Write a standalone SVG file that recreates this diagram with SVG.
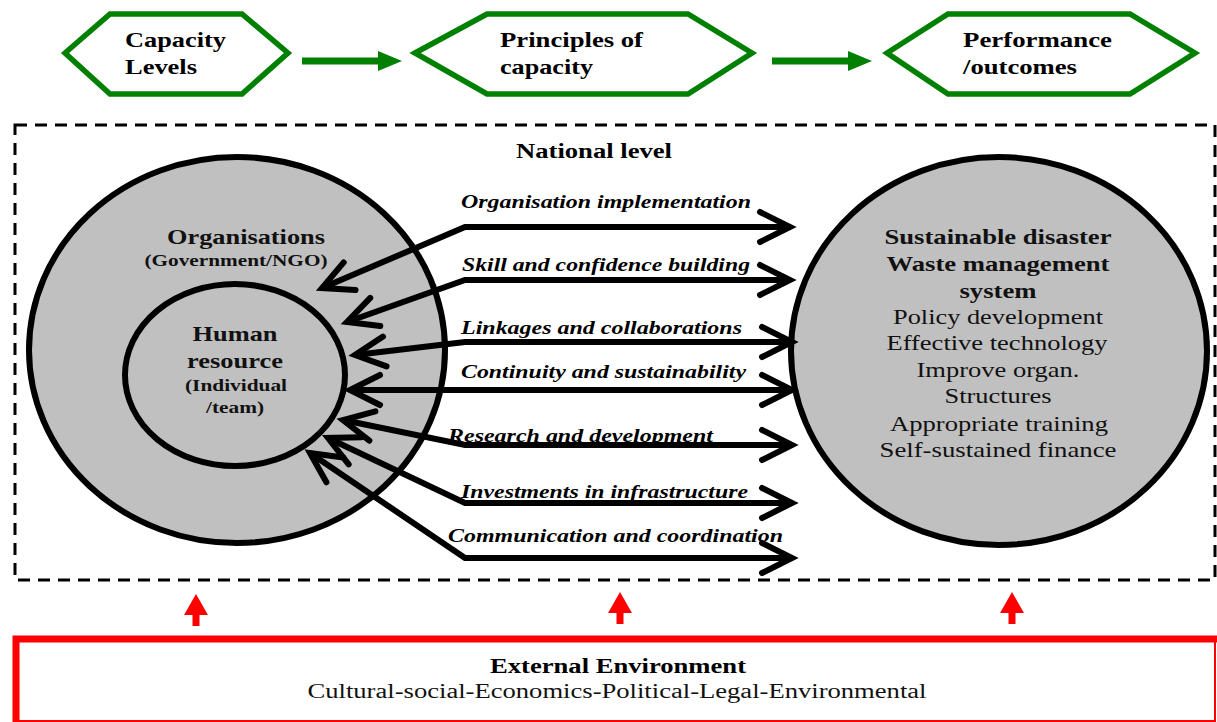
<svg xmlns="http://www.w3.org/2000/svg" width="1217" height="722" viewBox="0 0 1217 722">
<style>
text{font-family:'Liberation Serif','Times New Roman','DejaVu Serif',serif}
.hex{fill:#fff;stroke:#008000;stroke-width:5.5}
.garrow{fill:#008000}
.rarrow{fill:#ff0000}
.circ{fill:#c0c0c0;stroke:#000;stroke-width:6}
.conn{fill:none;stroke:#000;stroke-width:6;stroke-linejoin:miter}
.hb{font-weight:bold;font-size:22px;fill:#000}
.lb{font-weight:bold;font-style:italic;font-size:19.5px;fill:#000}
.cb{font-weight:bold;font-size:21.5px;fill:#111;text-anchor:middle}
.cs{font-weight:bold;font-size:16px;fill:#111;text-anchor:middle}
.cr{font-size:21.5px;fill:#111;text-anchor:middle}
</style>
<defs>
<marker id="ah" markerUnits="userSpaceOnUse" markerWidth="50" markerHeight="50" viewBox="-40 -25 50 50" refX="0" refY="0" orient="auto-start-reverse" overflow="visible">
<path d="M-30,-15 L0,0 L-30,15" fill="none" stroke="#000" stroke-width="6" stroke-linecap="round" stroke-linejoin="miter"/>
</marker>
</defs>

<g id="hex-capacity-levels">
<polygon class="hex" points="65,53 110,14 242,14 288,53 242,94 110,94"/>
<text class="hb" x="125" y="47" textLength="101" lengthAdjust="spacingAndGlyphs">Capacity</text>
<text class="hb" x="125" y="74" textLength="72" lengthAdjust="spacingAndGlyphs">Levels</text>
</g>
<g id="hex-principles">
<polygon class="hex" points="415,53 487,14 688,14 752,53 688,94 487,94"/>
<text class="hb" x="500" y="47" textLength="143" lengthAdjust="spacingAndGlyphs">Principles of</text>
<text class="hb" x="500" y="74" textLength="93" lengthAdjust="spacingAndGlyphs">capacity</text>
</g>
<g id="hex-performance">
<polygon class="hex" points="887,53 948,14 1130,14 1195,53 1130,94 948,94"/>
<text class="hb" x="963" y="47" textLength="149" lengthAdjust="spacingAndGlyphs">Performance</text>
<text class="hb" x="963" y="74" textLength="114" lengthAdjust="spacingAndGlyphs">/outcomes</text>
</g>

<g id="national-level">
<rect x="15" y="125" width="1200" height="455" fill="none" stroke="#000" stroke-width="3" stroke-dasharray="12,8"/>
<text class="hb" x="594" y="158" text-anchor="middle" style="font-size:20px" textLength="156" lengthAdjust="spacingAndGlyphs">National level</text>
</g>

<g id="organisations">
<ellipse class="circ" cx="237" cy="350" rx="208" ry="193"/>
<text class="cb" x="246" y="244" textLength="158" lengthAdjust="spacingAndGlyphs">Organisations</text>
<text class="cs" x="236" y="266" textLength="183" lengthAdjust="spacingAndGlyphs">(Government/NGO)</text>
</g>
<g id="human-resource">
<ellipse class="circ" cx="235" cy="375" rx="110" ry="91"/>
<text class="cb" x="235" y="341" textLength="85" lengthAdjust="spacingAndGlyphs">Human</text>
<text class="cb" x="235" y="368" textLength="96" lengthAdjust="spacingAndGlyphs">resource</text>
<text class="cs" x="236" y="391" textLength="102" lengthAdjust="spacingAndGlyphs">(Individual</text>
<text class="cs" x="235" y="413" textLength="58" lengthAdjust="spacingAndGlyphs">/team)</text>
</g>
<g id="sustainable-system">
<ellipse class="circ" cx="999" cy="351" rx="208" ry="194"/>
<text class="cb" x="998" y="244" textLength="227" lengthAdjust="spacingAndGlyphs">Sustainable disaster</text>
<text class="cb" x="998" y="271" textLength="223" lengthAdjust="spacingAndGlyphs">Waste management</text>
<text class="cb" x="998" y="298" textLength="77" lengthAdjust="spacingAndGlyphs">system</text>
<text class="cr" x="998" y="324" textLength="210" lengthAdjust="spacingAndGlyphs">Policy development</text>
<text class="cr" x="997" y="350" textLength="221" lengthAdjust="spacingAndGlyphs">Effective technology</text>
<text class="cr" x="998" y="377" textLength="163" lengthAdjust="spacingAndGlyphs">Improve organ.</text>
<text class="cr" x="998" y="403" textLength="107" lengthAdjust="spacingAndGlyphs">Structures</text>
<text class="cr" x="999" y="431" textLength="218" lengthAdjust="spacingAndGlyphs">Appropriate training</text>
<text class="cr" x="998" y="457" textLength="237" lengthAdjust="spacingAndGlyphs">Self-sustained finance</text>
</g>

<g id="connectors">
<path class="garrow" d="M302,57.5 H378 V51 L402,61 L378,71 V64.5 H302 Z"/>
<path class="garrow" d="M772,57.5 H848 V51 L872,61 L848,71 V64.5 H772 Z"/>
<polyline class="conn" points="322,288 465,227 790,227" marker-start="url(#ah)" marker-end="url(#ah)"/>
<polyline class="conn" points="347,322 465,280 790,280" marker-start="url(#ah)" marker-end="url(#ah)"/>
<polyline class="conn" points="355,355 465,342 792,342" marker-start="url(#ah)" marker-end="url(#ah)"/>
<polyline class="conn" points="350,390 465,390 792,390" marker-start="url(#ah)" marker-end="url(#ah)"/>
<polyline class="conn" points="343,420 465,445 792,445" marker-start="url(#ah)" marker-end="url(#ah)"/>
<polyline class="conn" points="328,438 465,503 792,503" marker-start="url(#ah)" marker-end="url(#ah)"/>
<polyline class="conn" points="310,453 465,558 792,558" marker-start="url(#ah)" marker-end="url(#ah)"/>
<text class="lb" x="461" y="208" textLength="290" lengthAdjust="spacingAndGlyphs">Organisation implementation</text>
<text class="lb" x="462" y="271" textLength="288" lengthAdjust="spacingAndGlyphs">Skill and confidence building</text>
<text class="lb" x="461" y="334" textLength="281" lengthAdjust="spacingAndGlyphs">Linkages and collaborations</text>
<text class="lb" x="461" y="378" textLength="285" lengthAdjust="spacingAndGlyphs">Continuity and sustainability</text>
<text class="lb" x="448" y="442" textLength="265" lengthAdjust="spacingAndGlyphs">Research and development</text>
<text class="lb" x="461" y="498" textLength="287" lengthAdjust="spacingAndGlyphs">Investments in infrastructure</text>
<text class="lb" x="448" y="542" textLength="335" lengthAdjust="spacingAndGlyphs">Communication and coordination</text>
<path class="rarrow" d="M196,594 L208,615 H199.5 V626 H192.5 V615 H184 Z"/>
<path class="rarrow" d="M620,592 L632,613 H623.5 V624 H616.5 V613 H608 Z"/>
<path class="rarrow" d="M1012,592 L1024,613 H1015.5 V624 H1008.5 V613 H1000 Z"/>
</g>

<g id="external-environment">
<rect x="16" y="639" width="1199" height="82" fill="#fff" stroke="#ff0000" stroke-width="2"/>
<path d="M16,722 V639 H1217" fill="none" stroke="#ff0000" stroke-width="7"/>
<text class="hb" x="618" y="673" text-anchor="middle" style="font-size:20px" textLength="256" lengthAdjust="spacingAndGlyphs">External Environment</text>
<text class="cr" x="617" y="698" style="font-size:20.5px" textLength="619" lengthAdjust="spacingAndGlyphs">Cultural-social-Economics-Political-Legal-Environmental</text>
</g>
</svg>
